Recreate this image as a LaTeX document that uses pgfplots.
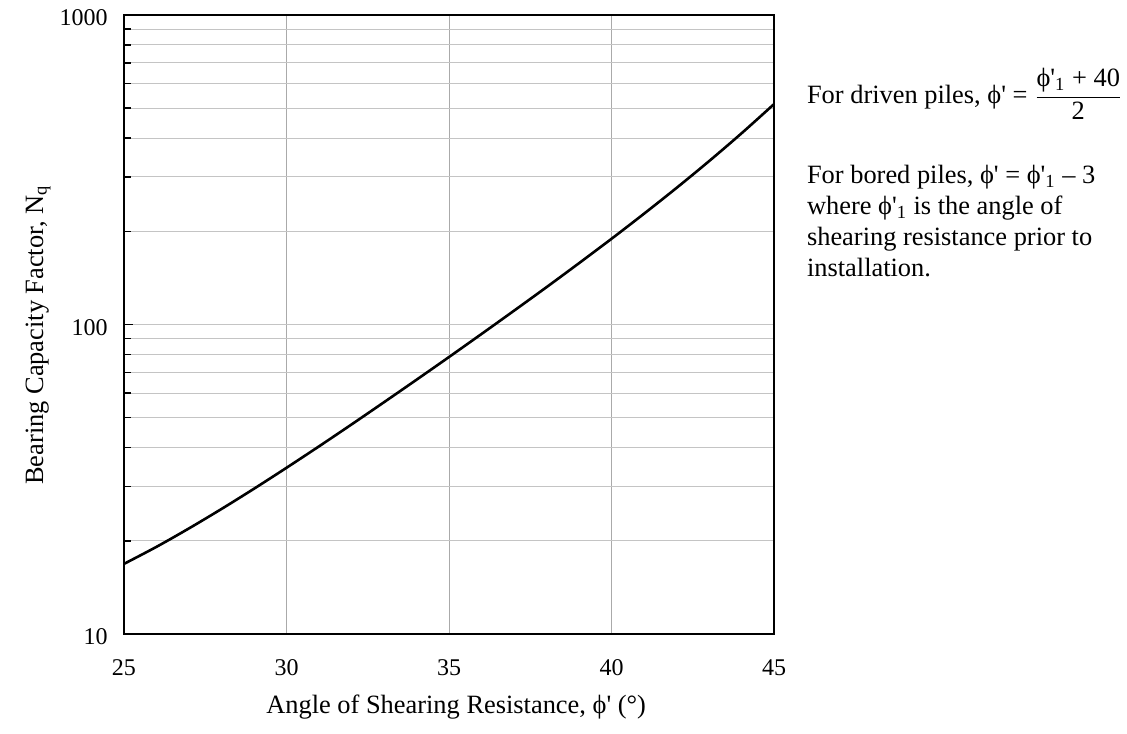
\documentclass[border=0pt,12pt]{standalone}
\usepackage{fontspec}
\setmainfont{Liberation Serif}[Ligatures=TeXOff]
\usepackage{pgfplots}
\pgfplotsset{compat=1.18}
\definecolor{hgrid}{RGB}{196,196,196}
\definecolor{vgrid}{RGB}{170,170,170}
\newcommand{\bigtxt}{\fontsize{13.2}{15.8}\selectfont}
\begin{document}
\begin{tikzpicture}
\useasboundingbox (-62pt,-49.5pt) rectangle (501.5pt,317pt);
\begin{axis}[
  at={(0,0)}, anchor=south west,
  scale only axis,
  width=325pt, height=309.5pt,
  ymode=log,
  xmin=25, xmax=45, ymin=10, ymax=1000,
  xtick={25,30,35,40,45},
  xticklabels={25,30,35,40,45},
  ytick={10,100,1000},
  yticklabels={10,100,1000},
  minor ytick={20,30,40,50,60,70,80,90,200,300,400,500,600,700,800,900},
  xmajorgrids, ymajorgrids, yminorgrids,
  major x grid style={draw=vgrid, line width=0.5pt},
  major y grid style={draw=hgrid, line width=0.5pt},
  minor y grid style={draw=hgrid, line width=0.5pt},
  axis line style={line width=1pt},
  xtick style={draw=none},
  ytick pos=left,
  tick align=inside,
  major tick length=4.5pt,
  minor tick length=3.5pt,
  ytick style={line width=0.8pt, black},
  minor y tick style={line width=0.8pt, black},
  xticklabel style={anchor=base, yshift=-20.5pt},
  yticklabel style={anchor=east, xshift=-4pt, yshift=-1.5pt},
  xlabel={Angle of Shearing Resistance, ϕ' (°)},
  ylabel={Bearing Capacity Factor, N\textsubscript{q}},
  xlabel style={font=\bigtxt, at={(axis description cs:0.511,-0.1292)}, anchor=base},
  ylabel style={font=\bigtxt, at={(axis description cs:-0.1246,0.483)}, anchor=base},
  clip=false,
]
\addplot[smooth, black, line width=1.3pt] coordinates {
(25,16.85)(26,19.13)(27,21.94)(28,25.35)(29,29.47)(30,34.44)(31,40.39)(32,47.53)
(33,56.09)(34,66.30)(35,78.52)(36,93.18)(37,110.8)(38,132.0)(39,157.8)(40,189.2)
(41,228.0)(42,276.2)(43,337.0)(44,414.6)(45,515.2)};
\node[font=\bigtxt, anchor=base west, inner sep=0pt] at (rel axis cs:1.0502,0.8578)
  {For driven piles, ϕ' = $\displaystyle\frac{\mbox{\bigtxt ϕ'\textsubscript{1} + 40}}{\mbox{\bigtxt 2}}$};
\node[font=\bigtxt, anchor=base west, inner sep=0pt] at (rel axis cs:1.0502,0.7283)
  {For bored piles, ϕ' = ϕ'\textsubscript{1} – 3};
\node[font=\bigtxt, anchor=base west, inner sep=0pt] at (rel axis cs:1.0502,0.6775)
  {where ϕ'\textsubscript{1} is the angle of};
\node[font=\bigtxt, anchor=base west, inner sep=0pt] at (rel axis cs:1.0502,0.6275)
  {shearing resistance prior to};
\node[font=\bigtxt, anchor=base west, inner sep=0pt] at (rel axis cs:1.0502,0.5774)
  {installation.};
\end{axis}
\end{tikzpicture}
\end{document}
